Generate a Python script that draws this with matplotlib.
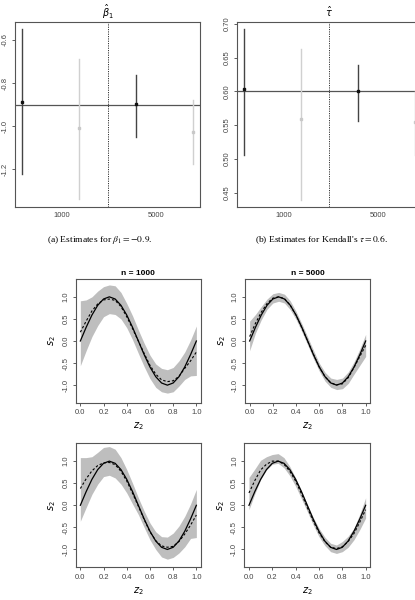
import matplotlib
matplotlib.use("Agg")
import matplotlib.pyplot as plt
import numpy as np

# ---------------- data: top panels ----------------
pos = [1, 2, 3, 4]
pos_colors = ["#111111", "#c8c8c8", "#111111", "#c8c8c8"]
line_colors = ["#444444", "#d0d0d0", "#444444", "#d0d0d0"]
xtick_pos = [1.70, 3.35]
xtick_labels = ["1000", "5000"]
sep_line = 2.5

beta_est = [-0.886, -1.007, -0.898, -1.027]
beta_lo = [-1.222, -1.339, -1.052, -1.178]
beta_hi = [-0.550, -0.690, -0.764, -0.878]
beta_true = -0.9

tau_est = [0.604, 0.559, 0.601, 0.554]
tau_lo = [0.506, 0.439, 0.556, 0.505]
tau_hi = [0.692, 0.663, 0.639, 0.600]
tau_true = 0.6

# ---------------- data: bottom panels ----------------
z = [0.0, 0.05, 0.1, 0.15, 0.2, 0.25, 0.3, 0.35, 0.4, 0.45, 0.5,
     0.55, 0.6, 0.65, 0.7, 0.75, 0.8, 0.85, 0.9, 0.95, 1.0]
s_true = [0.0, 0.309, 0.588, 0.809, 0.951, 1.0, 0.951, 0.809, 0.588, 0.309, 0.0,
          -0.309, -0.588, -0.809, -0.951, -1.0, -0.951, -0.809, -0.588, -0.309, 0.0]

p1_est = [0.20, 0.45, 0.68, 0.84, 0.93, 0.95, 0.92, 0.78, 0.55, 0.28, 0.00,
          -0.28, -0.55, -0.75, -0.88, -0.92, -0.90, -0.80, -0.62, -0.45, -0.25]
p1_up = [0.91, 0.93, 1.00, 1.13, 1.23, 1.27, 1.25, 1.10, 0.85, 0.57, 0.25,
         -0.05, -0.32, -0.52, -0.62, -0.65, -0.60, -0.45, -0.25, 0.02, 0.34]
p1_lo = [-0.56, -0.22, 0.10, 0.35, 0.55, 0.62, 0.60, 0.50, 0.30, 0.03, -0.28,
         -0.58, -0.85, -1.05, -1.15, -1.18, -1.15, -1.02, -0.87, -0.79, -0.78]

p2_est = [0.10, 0.40, 0.65, 0.85, 0.97, 1.00, 0.96, 0.81, 0.58, 0.30, 0.00,
          -0.30, -0.59, -0.81, -0.95, -0.99, -0.97, -0.83, -0.60, -0.35, -0.10]
p2_up = [0.45, 0.60, 0.78, 0.95, 1.07, 1.10, 1.06, 0.91, 0.67, 0.39, 0.09,
         -0.21, -0.50, -0.71, -0.84, -0.87, -0.84, -0.70, -0.47, -0.18, 0.15]
p2_lo = [-0.22, 0.18, 0.48, 0.72, 0.86, 0.90, 0.86, 0.71, 0.49, 0.21, -0.09,
         -0.40, -0.68, -0.91, -1.05, -1.10, -1.08, -0.96, -0.75, -0.55, -0.35]

p3_est = [0.38, 0.60, 0.78, 0.90, 0.96, 0.97, 0.92, 0.77, 0.55, 0.27, -0.02,
          -0.32, -0.60, -0.80, -0.92, -0.95, -0.93, -0.82, -0.65, -0.45, -0.22]
p3_up = [1.08, 1.08, 1.10, 1.20, 1.31, 1.33, 1.27, 1.08, 0.81, 0.50, 0.17,
         -0.13, -0.40, -0.60, -0.71, -0.72, -0.63, -0.47, -0.25, 0.03, 0.36]
p3_lo = [-0.36, -0.05, 0.25, 0.48, 0.65, 0.68, 0.62, 0.48, 0.28, 0.03, -0.21,
         -0.50, -0.78, -1.00, -1.17, -1.22, -1.18, -1.08, -0.94, -0.75, -0.73]

p4_est = [0.28, 0.56, 0.80, 0.93, 1.00, 1.00, 0.93, 0.77, 0.55, 0.26, -0.05,
          -0.35, -0.62, -0.82, -0.95, -0.98, -0.94, -0.82, -0.64, -0.38, -0.10]
p4_up = [0.63, 0.82, 1.02, 1.10, 1.15, 1.17, 1.08, 0.88, 0.62, 0.33, 0.02,
         -0.27, -0.52, -0.72, -0.86, -0.90, -0.82, -0.70, -0.52, -0.20, 0.17]
p4_lo = [-0.10, 0.26, 0.58, 0.80, 0.93, 0.95, 0.85, 0.67, 0.43, 0.15, -0.14,
         -0.44, -0.71, -0.91, -1.05, -1.09, -1.05, -0.95, -0.78, -0.55, -0.29]

x_ticks = [0.0, 0.2, 0.4, 0.6, 0.8, 1.0]
y_ticks = [-1.0, -0.5, 0.0, 0.5, 1.0]

# ---------------- figure ----------------
plt.rcParams['font.family'] = ['Liberation Sans', 'DejaVu Sans']
W, H = 415, 600
fig = plt.figure(figsize=(W / 100, H / 100), dpi=100)


def px_axes(left, top, right, bottom):
    return fig.add_axes([left / W, 1 - bottom / H, (right - left) / W, (bottom - top) / H])


FRAME = "#555555"
TICKFS = 5.5


def style_frame(ax):
    for s in ax.spines.values():
        s.set_color(FRAME)
        s.set_linewidth(0.8)
    ax.tick_params(colors="#444444", labelsize=TICKFS, length=2.5, width=0.6, pad=2)
    ax.tick_params(axis='y', labelrotation=90)
    for lab in ax.get_yticklabels():
        lab.set_va('center')


def top_panel(ax, est, lo, hi, true, ylim, yticks, yfmt, title):
    ax.axhline(true, color="#555555", lw=0.9, zorder=1)
    ax.axvline(sep_line, color="#333333", lw=0.7, ls=(0, (1.2, 1.2)), zorder=1)
    for i in range(len(pos)):
        ax.plot([pos[i], pos[i]], [lo[i], hi[i]], color=line_colors[i], lw=1.0, zorder=2)
        ax.plot(pos[i], est[i], 's', color=pos_colors[i], ms=1.9, zorder=3)
    ax.set_xlim(0.877, 4.123)
    ax.set_ylim(*ylim)
    ax.set_xticks(xtick_pos)
    ax.set_xticklabels(xtick_labels)
    ax.set_yticks(yticks)
    ax.set_yticklabels([yfmt.format(v) for v in yticks])
    style_frame(ax)
    ax.tick_params(axis='x', length=0, pad=4)
    ax.set_title(title, fontsize=7, pad=4, math_fontfamily='dejavusans')


ax_a = px_axes(15, 22.3, 200, 206.7)
top_panel(ax_a, beta_est, beta_lo, beta_hi, beta_true, (-1.374, -0.518),
          [-1.2, -1.0, -0.8, -0.6], "{:.1f}", r'$\hat{\beta}_1$')
ax_b = px_axes(236.7, 22.3, 421.7, 206.7)
top_panel(ax_b, tau_est, tau_lo, tau_hi, tau_true, (0.429, 0.7025),
          [0.45, 0.50, 0.55, 0.60, 0.65, 0.70], "{:.2f}", r'$\hat{\tau}$')
ax_b.spines['right'].set_visible(False)

fig.text(100 / W, 1 - 240 / H, r'(a) Estimates for $\beta_1 = -0.9$.',
         family='Liberation Serif', fontsize=6.8, ha='center', va='center',
         math_fontfamily='stix')
fig.text(321.5 / W, 1 - 240 / H, r"(b) Estimates for Kendall's $\tau = 0.6$.",
         family='Liberation Serif', fontsize=6.8, ha='center', va='center',
         math_fontfamily='stix')


def bottom_panel(ax, est, up, lo, title=None):
    ax.fill_between(z, lo, up, color="#bebebe", lw=0, zorder=1)
    ax.plot(z, s_true, color="black", lw=0.9, zorder=3)
    ax.plot(z, est, color="black", lw=0.8, ls=(0, (2.2, 1.8)), zorder=4)
    ax.set_xlim(-0.04, 1.04)
    ax.set_ylim(-1.404, 1.404)
    ax.set_xticks(x_ticks)
    ax.set_xticklabels(["{:.1f}".format(v) for v in x_ticks])
    ax.set_yticks(y_ticks)
    ax.set_yticklabels(["{:.1f}".format(v) for v in y_ticks])
    style_frame(ax)
    ax.set_xlabel(r'$z_2$', fontsize=7, labelpad=3, math_fontfamily='dejavusans')
    ax.set_ylabel(r'$s_2$', fontsize=7, labelpad=3, math_fontfamily='dejavusans')
    if title:
        ax.set_title(title, fontsize=6, fontweight='bold', pad=3)


ax1 = px_axes(75.7, 279, 201, 403)
bottom_panel(ax1, p1_est, p1_up, p1_lo, "n = 1000")
ax2 = px_axes(245, 279, 370.3, 403)
bottom_panel(ax2, p2_est, p2_up, p2_lo, "n = 5000")
ax3 = px_axes(75.7, 443.3, 201, 567.3)
bottom_panel(ax3, p3_est, p3_up, p3_lo)
ax4 = px_axes(244.3, 443.3, 370.3, 567.3)
bottom_panel(ax4, p4_est, p4_up, p4_lo)

fig.savefig("out.png", dpi=100)
